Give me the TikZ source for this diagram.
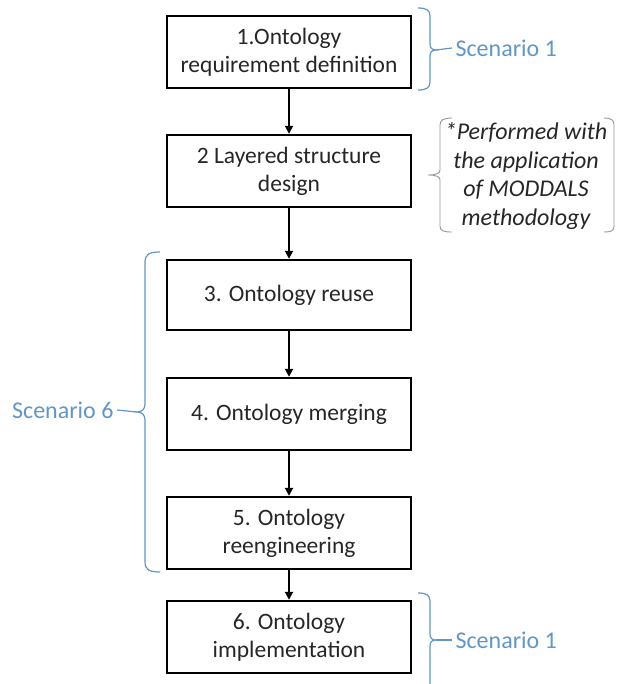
\documentclass[tikz,border=0pt]{standalone}
\usepackage{fontspec}
\setmainfont{Carlito}
\usepackage{xcolor}
\usetikzlibrary{positioning,arrows.meta}
\definecolor{scenblue}{RGB}{96,150,200}
\definecolor{notegray}{RGB}{150,150,150}
\begin{document}
\begin{tikzpicture}[
    x=1pt, y=-1pt,
    font=\fontsize{23.5}{28}\selectfont,
    box/.style={draw, line width=2.4pt, align=center, minimum height=72pt, minimum width=244pt, text=black!85},
    arrow/.style={-{Triangle[length=8pt,width=8pt]}, line width=1.8pt},
    brace/.style={draw=scenblue, line width=1.2pt},
    scen/.style={text=scenblue, font=\fontsize{24}{28}\selectfont}
  ]
    \useasboundingbox (0,0) rectangle (622,684);
    \node[box] (a) at (289,52) {1.Ontology\\requirement definition};
    \node[box, below=44.6pt of a] (b) {2 Layered structure\\design};
    \node[box, below=50.6pt of b, minimum height=70pt] (c) {3. Ontology reuse};
    \node[box, below=45.6pt of c] (d) {4. Ontology merging};
    \node[box, below=44.6pt of d] (e) {5. Ontology\\reengineering};
    \node[box, below=29.6pt of e] (f) {6. Ontology\\implementation};
    \draw[arrow] (a) -- (b);
    \draw[arrow] (b) -- (c);
    \draw[arrow] (c) -- (d);
    \draw[arrow] (d) -- (e);
    \draw[arrow] (e) -- (f);
    % scenario braces
    \node[scen, anchor=west] (s1) at (452,48) {Scenario 1};
    \node[scen, anchor=west] (s1b) at (452,640) {Scenario 1};
    \node[scen, anchor=east] (s6) at (117,410) {Scenario 6};
    \coordinate (t1) at (436,50);
    \coordinate (t2) at (436,640);
    \coordinate (t6) at (137,412);
    \draw[brace] (418,8) .. controls (426,8) and (430,10) .. (430,16) -- (430,44)
      .. controls (430,48) and (432,50) .. (t1) .. controls (432,50) and (430,52) .. (430,56)
      -- (430,82) .. controls (430,88) and (426,90) .. (418,90);
    \draw[brace] (t1) -- (s1.west);
    \draw[brace] (418,593) .. controls (426,593) and (430,595) .. (430,601) -- (430,634)
      .. controls (430,638) and (432,640) .. (t2) .. controls (432,640) and (430,642) .. (430,646)
      -- (430,690);
    \draw[brace] (t2) -- (s1b.west);
    \draw[brace] (160,252) .. controls (150,252) and (145,254) .. (145,262) -- (145,404)
      .. controls (145,409) and (142,412) .. (t6) .. controls (142,412) and (145,415) .. (145,420)
      -- (145,562) .. controls (145,570) and (150,572) .. (160,572);
    \draw[brace] (t6) -- (s6.east);
    % note bracket
    \node[font=\fontsize{24}{28.5}\selectfont\itshape, align=center, text=black!85] (note) at (526,176)
      {*Performed with\\the application\\of MODDALS\\methodology};
    \coordinate (tn) at (428,175);
    \draw[draw=notegray, line width=0.9pt] (452,118) .. controls (444,118) and (440,120) .. (440,125) -- (440,170)
      .. controls (440,173) and (437,175) .. (tn) .. controls (437,175) and (440,177) .. (440,180)
      -- (440,226) .. controls (440,231) and (444,232) .. (452,232);
    \draw[draw=notegray, line width=0.9pt] (604,118) .. controls (611,118) and (614,120) .. (614,125)
      -- (614,226) .. controls (614,231) and (611,232) .. (604,232);
\end{tikzpicture}
\end{document}
